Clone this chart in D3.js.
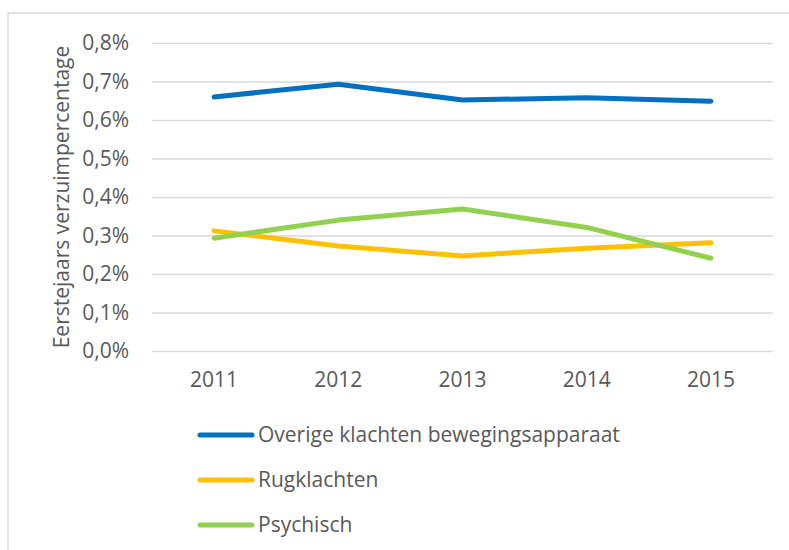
<!DOCTYPE html>
<html>
<head>
<meta charset="utf-8">
<title>Eerstejaars verzuimpercentage</title>
<script src="https://d3js.org/d3.v7.min.js"></script>
<style>
    body { margin: 0; background: #ffffff; }
    text { font-family: "Open Sans", "Noto Sans", sans-serif; fill: #595959; }
</style>
</head>
<body>
<div id="chart"></div>
<script>
    // data
    var years = ["2011", "2012", "2013", "2014", "2015"];
    var overige = [0.00660, 0.00693, 0.00652, 0.00658, 0.00649];
    var rug = [0.00312, 0.00273, 0.00247, 0.00267, 0.00281];
    var psychisch = [0.00293, 0.00340, 0.00369, 0.00321, 0.00241];
    var yTicks = [0, 0.001, 0.002, 0.003, 0.004, 0.005, 0.006, 0.007, 0.008];

    var series = [
        { name: "Overige klachten bewegingsapparaat", values: overige, color: "#0070c0" },
        { name: "Rugklachten", values: rug, color: "#ffc000" },
        { name: "Psychisch", values: psychisch, color: "#92d050" }
    ];

    var W = 789, H = 550;
    var plot = { left: 152, right: 773, top: 43, bottom: 351 };

    var nl = d3.formatLocale({ decimal: ",", thousands: ".", grouping: [3], currency: ["€", ""] });
    var fmt = nl.format(".1%");

    var svg = d3.select("#chart").append("svg")
        .attr("width", W)
        .attr("height", H);

    // outer chart border
    svg.append("rect")
        .attr("x", 8).attr("y", 13)
        .attr("width", W).attr("height", H)
        .attr("fill", "none")
        .attr("stroke", "#d9d9d9")
        .attr("stroke-width", 1.5);

    var x = d3.scaleBand().domain(years).range([plot.left, plot.right]);
    var y = d3.scaleLinear().domain([0, 0.008]).range([plot.bottom, plot.top]);

    // gridlines + y labels
    var yAxis = svg.append("g")
        .attr("transform", "translate(" + plot.left + ",0)")
        .call(d3.axisLeft(y).tickValues(yTicks).tickFormat(fmt)
            .tickSize(-(plot.right - plot.left)).tickPadding(23));
    yAxis.select(".domain").remove();
    yAxis.selectAll(".tick line").attr("stroke", "#d9d9d9").attr("stroke-width", 1.5);
    yAxis.selectAll(".tick text").attr("font-size", "21px").attr("fill", "#595959");

    // x labels
    var xAxis = svg.append("g")
        .attr("transform", "translate(0," + plot.bottom + ")")
        .call(d3.axisBottom(x).tickSize(0).tickPadding(21));
    xAxis.select(".domain").remove();
    xAxis.selectAll(".tick text").attr("font-size", "21px").attr("fill", "#595959");

    // y title
    svg.append("text")
        .attr("transform", "translate(69," + (plot.top + plot.bottom) / 2 + ") rotate(-90)")
        .attr("text-anchor", "middle")
        .attr("font-size", "21px")
        .text("Eerstejaars verzuimpercentage");

    var line = d3.line()
        .x(function (d, i) { return x(years[i]) + x.bandwidth() / 2; })
        .y(function (d) { return y(d); });

    svg.selectAll("path.series")
        .data(series)
        .enter().append("path")
        .attr("class", "series")
        .attr("d", function (d) { return line(d.values); })
        .attr("fill", "none")
        .attr("stroke", function (d) { return d.color; })
        .attr("stroke-width", 5)
        .attr("stroke-linecap", "round")
        .attr("stroke-linejoin", "round");

    // legend
    var legend = svg.selectAll("g.legend")
        .data(series)
        .enter().append("g")
        .attr("class", "legend")
        .attr("transform", function (d, i) { return "translate(200," + (435 + i * 45) + ")"; });

    legend.append("line")
        .attr("x1", 0).attr("x2", 52)
        .attr("stroke", function (d) { return d.color; })
        .attr("stroke-width", 5)
        .attr("stroke-linecap", "round");

    legend.append("text")
        .attr("x", 58)
        .attr("dy", "0.35em")
        .attr("font-size", "21px")
        .text(function (d) { return d.name; });
</script>
</body>
</html>
